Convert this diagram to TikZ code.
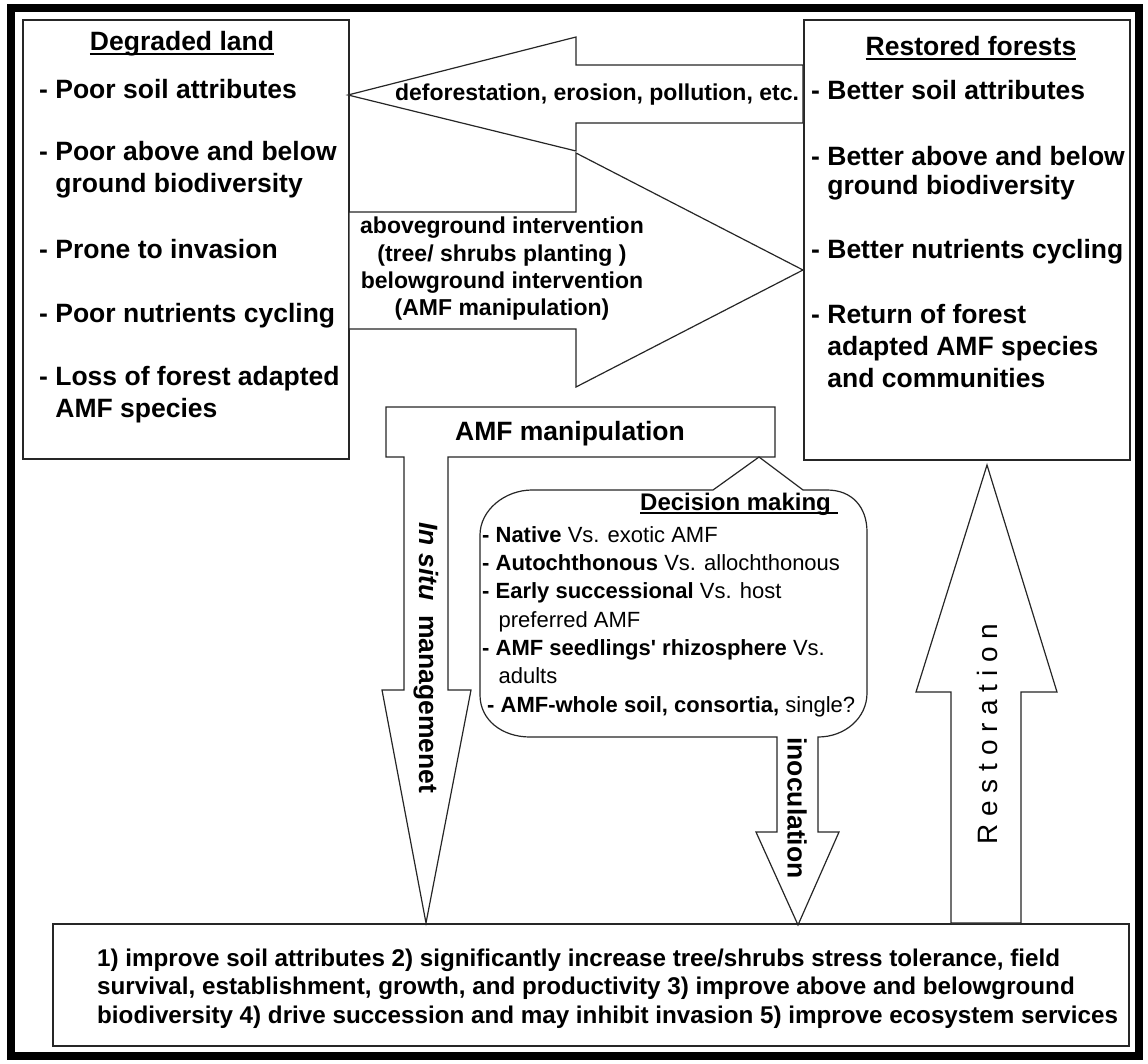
\documentclass[tikz,border=0pt]{standalone}
\usepackage{fontspec}
\setmainfont{Liberation Sans}

% underline sitting just under the baseline
\newcommand{\ulin}[1]{\setbox0=\hbox{#1}\rlap{\rule[-0.17em]{\wd0}{0.07em}}\box0}

\begin{document}
\begin{tikzpicture}[x=1pt, y=-1pt,
    panel/.style={draw=black!85, line width=1.6pt, fill=white},
    blockarrow/.style={draw=black!85, line width=1.2pt, fill=white, line join=miter},
    item/.style={anchor=base west, inner sep=0pt, font=\fontsize{26.5}{32}\selectfont\bfseries},
    heading/.style={anchor=base, inner sep=0pt, font=\fontsize{26.5}{32}\selectfont\bfseries},
    arrowtext/.style={anchor=base, inner sep=0pt, font=\fontsize{23}{28}\selectfont\bfseries},
    choice/.style={anchor=base west, inner sep=0pt, font=\fontsize{22}{28}\selectfont},
    effect/.style={anchor=base west, inner sep=0pt, font=\fontsize{24.2}{28}\selectfont\bfseries}]

      \useasboundingbox (0,0) rectangle (1148,1063);
      \draw[line width=8pt] (11,7.5) rectangle (1139,1056);

      % the two states
      \draw[panel] (23,20) rectangle (349,459);
      \draw[panel] (804,20) rectangle (1130,460);
      \draw[panel] (53,924) rectangle (1129,1046);

      % degradation / intervention arrows
      \draw[blockarrow] (348,95) -- (576,37) -- (576,65) -- (803,65) -- (803,123)
           -- (576,123) -- (576,151) -- cycle;
      \draw[blockarrow] (349,212) -- (576,212) -- (576,153) -- (803,270) -- (576,387)
           -- (576,329) -- (349,329) -- cycle;

      % AMF manipulation with in situ arrow
      \draw[blockarrow] (386,407) -- (775,407) -- (775,457) -- (448,457) -- (448,690)
           -- (471,690) -- (426,923) -- (382,690) -- (404,690) -- (404,457)
           -- (386,457) -- cycle;

      % decision callout running into the inoculation arrow
      \draw[blockarrow] (532,490) -- (713,490) -- (759,457) -- (803,490) -- (827,490)
           .. controls (852,490) and (867,507) .. (867,532) -- (867,693)
           .. controls (867,718) and (845,737) .. (818,737) -- (818,832)
           -- (839,832) -- (798,925) -- (756,832) -- (777,832) -- (777,737)
           -- (530,737) .. controls (502,737) and (480,720) .. (480,695)
           -- (480,535) .. controls (480,510) and (505,490) .. (532,490) -- cycle;

      % restoration arrow
      \draw[blockarrow] (987,465) -- (1057,692) -- (1021,692) -- (1021,923)
           -- (951,923) -- (951,692) -- (916,692) -- cycle;

      \node[heading] (DegT) at (182,50) {\ulin{Degraded land}};
      \node[item] (Deg1) at (39,98) {- Poor soil attributes};
      \node[item] (Deg2) at (39,160) {- Poor above and below};
      \node[item] (Deg2b) at (39,192) {\phantom{- }ground biodiversity};
      \node[item] (Deg3) at (39,258) {- Prone to invasion};
      \node[item] (Deg4) at (39,322) {- Poor nutrients cycling};
      \node[item] (Deg5) at (39,385) {- Loss of forest adapted};
      \node[item] (Deg5b) at (39,417) {\phantom{- }AMF species};

      \node[heading] (ResT) at (971,55) {\ulin{Restored forests}};
      \node[item] (Res1) at (811,99) {- Better soil attributes};
      \node[item] (Res2) at (811,165) {- Better above and below};
      \node[item] (Res2b) at (811,194) {\phantom{- }ground biodiversity};
      \node[item] (Res3) at (811,258) {- Better nutrients cycling};
      \node[item] (Res4) at (811,323) {- Return of forest};
      \node[item] (Res4b) at (811,355) {\phantom{- }adapted AMF species};
      \node[item] (Res4c) at (811,387) {\phantom{- }and communities};

      \node[arrowtext] (Defor) at (597,100) {deforestation, erosion, pollution, etc.};
      \node[arrowtext] (Above) at (502,233) {aboveground intervention};
      \node[arrowtext] (Plant) at (502,261) {(tree/ shrubs planting )};
      \node[arrowtext] (Below) at (502,288) {belowground intervention};
      \node[arrowtext] (Manip) at (502,315) {(AMF manipulation)};

      \node[heading] (AMF) at (570,440) {AMF manipulation};
      \node[heading, anchor=center, rotate=-90] (Insitu) at (426,658)
           {\textit{In situ}\ \ managemenet};
      \node[heading, anchor=center, rotate=-90] (Inoc) at (797,808) {inoculation};
      \node[heading, anchor=center, rotate=90, font=\fontsize{28}{32}\selectfont] (Restor)
           at (987,734) {R e s t o r a t i o n};

      \node[heading, anchor=base west, font=\fontsize{24}{28}\selectfont\bfseries] (DecT)
           at (640,510) {\ulin{Decision making\ }};
      \node[choice] (Dec1) at (482,542) {\textbf{- Native} Vs. exotic AMF};
      \node[choice] (Dec2) at (482,570) {\textbf{- Autochthonous} Vs. allochthonous};
      \node[choice] (Dec3) at (482,598) {\textbf{- Early successional} Vs. host};
      \node[choice] (Dec3b) at (485,627) {\phantom{\textbf{- }}preferred AMF};
      \node[choice] (Dec4) at (482,655) {\textbf{- AMF seedlings\textquotesingle\ rhizosphere} Vs.};
      \node[choice] (Dec4b) at (485,683) {\phantom{\textbf{- }}adults};
      \node[choice] (Dec5) at (487,712) {\textbf{- AMF-whole soil, consortia,} single?};

      \node[effect] (Eff1) at (97,966) {1) improve soil attributes 2) significantly increase tree/shrubs stress tolerance, field};
      \node[effect] (Eff2) at (97,994) {survival, establishment, growth, and productivity 3) improve above and belowground};
      \node[effect] (Eff3) at (97,1023) {biodiversity 4) drive succession and may inhibit invasion 5) improve ecosystem services};
\end{tikzpicture}
\end{document}
